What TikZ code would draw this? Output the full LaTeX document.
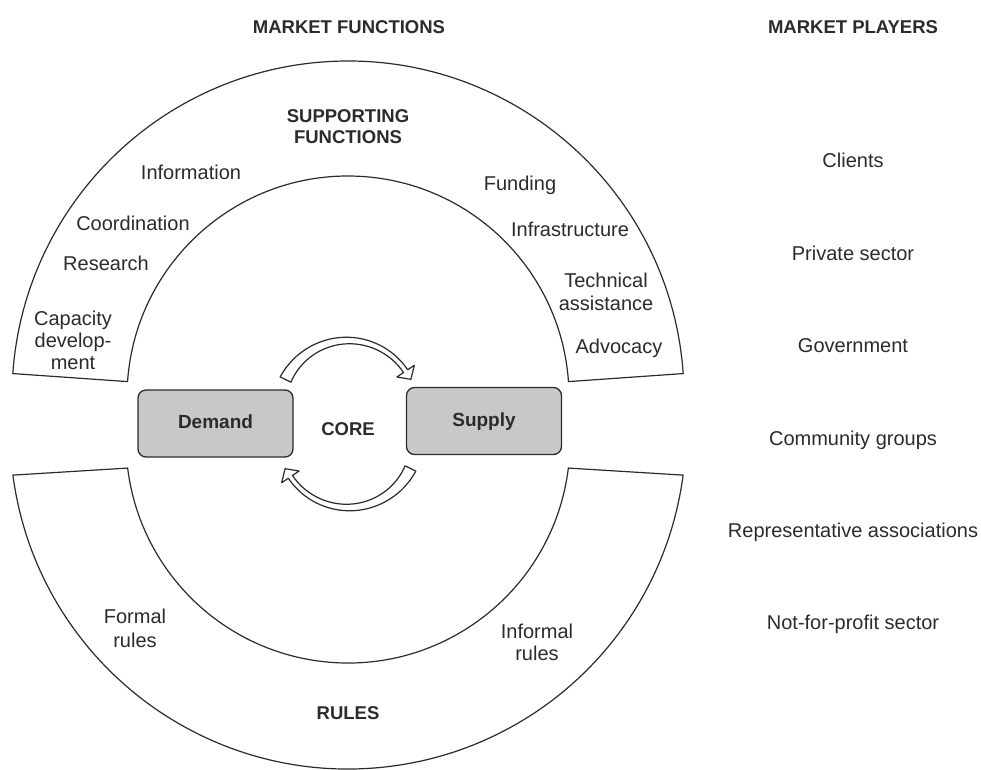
\documentclass[tikz,border=0pt]{standalone}
\usepackage{fontspec}
\setmainfont{Liberation Sans}
\usetikzlibrary{calc}
\definecolor{ink}{HTML}{2B2B2B}
\definecolor{boxgray}{HTML}{C8C8C8}
\tikzset{
  band/.style={draw=ink, line width=1.2pt, fill=white, line join=miter},
  lbl/.style={text=ink, font=\fontsize{20}{23}\selectfont, inner sep=0pt},
  hdr/.style={text=ink, font=\bfseries\fontsize{18.5}{20.5}\selectfont, inner sep=0pt},
  corebox/.style={draw=ink, line width=1.3pt, fill=boxgray, rounded corners=8pt,
    minimum width=155pt, minimum height=67pt, inner sep=0pt,
    text height=14pt, text depth=4pt, text=ink, font=\bfseries\fontsize{19}{21}\selectfont},
  cyclearrow/.style={draw=ink, line width=1.2pt, fill=white, line join=round},
}
\begin{document}
\begin{tikzpicture}[x=1pt,y=1pt]
\useasboundingbox (0,0) rectangle (981,-769);
% supporting functions band
\begin{scope}[shift={(348,-397)}]
  \draw[band] (4:336) arc[start angle=4, end angle=176, radius=336]
    -- (176:221) arc[start angle=176, end angle=4, radius=221] -- cycle;
\end{scope}
% rules band
\draw[band] ($(348,-431)+(-172.5:338)$) arc[start angle=-172.5, end angle=-7.5, radius=338]
  -- ($(348,-441)+(-7:222)$) arc[start angle=-7, end angle=-173, radius=222] -- cycle;
% cycle arrows
\begin{scope}[shift={(348,-410)}]
  \draw[cyclearrow] plot[domain=154:34, samples=40] (\x:{72+3.5*((\x-34)/120)^2})
    -- (34:80) -- (26:70) -- (34:59)
    -- plot[domain=34:154, samples=40] (\x:{67-3.5*((\x-34)/120)^2}) -- cycle;
\end{scope}
\begin{scope}[shift={(348,-438)}, rotate=180]
  \draw[cyclearrow] plot[domain=154:34, samples=40] (\x:{72+3.5*((\x-34)/120)^2})
    -- (34:80) -- (26:70) -- (34:59)
    -- plot[domain=34:154, samples=40] (\x:{67-3.5*((\x-34)/120)^2}) -- cycle;
\end{scope}
% core boxes
\node[corebox] (demand) at (215.5,-423.5) {Demand};
\node[corebox] (supply) at (484,-421) {Supply};
\node[hdr, anchor=base] (core) at (348,-435) {CORE};
% headers
\node[hdr, anchor=base] (mf) at (349,-33) {MARKET FUNCTIONS};
\node[hdr, anchor=base] (mp) at (853,-33) {MARKET PLAYERS};
\node[hdr, align=center] (sf) at (348,-126.4) {SUPPORTING\\FUNCTIONS};
% supporting functions labels
\node[lbl, anchor=base] (info) at (191,-179) {Information};
\node[lbl, anchor=base] (coord) at (133,-230) {Coordination};
\node[lbl, anchor=base] (res) at (106,-270) {Research};
\node[lbl, align=center, font=\fontsize{20}{22}\selectfont] (cap) at (73,-340) {Capacity\\develop-\\ment};
\node[lbl, anchor=base] (fund) at (520,-190) {Funding};
\node[lbl, anchor=base] (infra) at (570,-236) {Infrastructure};
\node[lbl, align=center, font=\fontsize{20}{22.5}\selectfont] (tech) at (606,-292) {Technical\\assistance};
\node[lbl, anchor=base] (adv) at (619,-353) {Advocacy};
% rules labels
\node[lbl, align=center, font=\fontsize{20}{24}\selectfont] (formal) at (135,-628) {Formal\\rules};
\node[lbl, align=center, font=\fontsize{20}{22}\selectfont] (informal) at (537,-642) {Informal\\rules};
\node[hdr, anchor=base] (rules) at (348,-719) {RULES};
% market players
\node[lbl, anchor=base] (p1) at (853,-167) {Clients};
\node[lbl, anchor=base] (p2) at (853,-260) {Private sector};
\node[lbl, anchor=base] (p3) at (853,-352) {Government};
\node[lbl, anchor=base] (p4) at (853,-445) {Community groups};
\node[lbl, anchor=base] (p5) at (853,-537) {Representative associations};
\node[lbl, anchor=base] (p6) at (853,-629) {Not-for-profit sector};
\end{tikzpicture}
\end{document}
